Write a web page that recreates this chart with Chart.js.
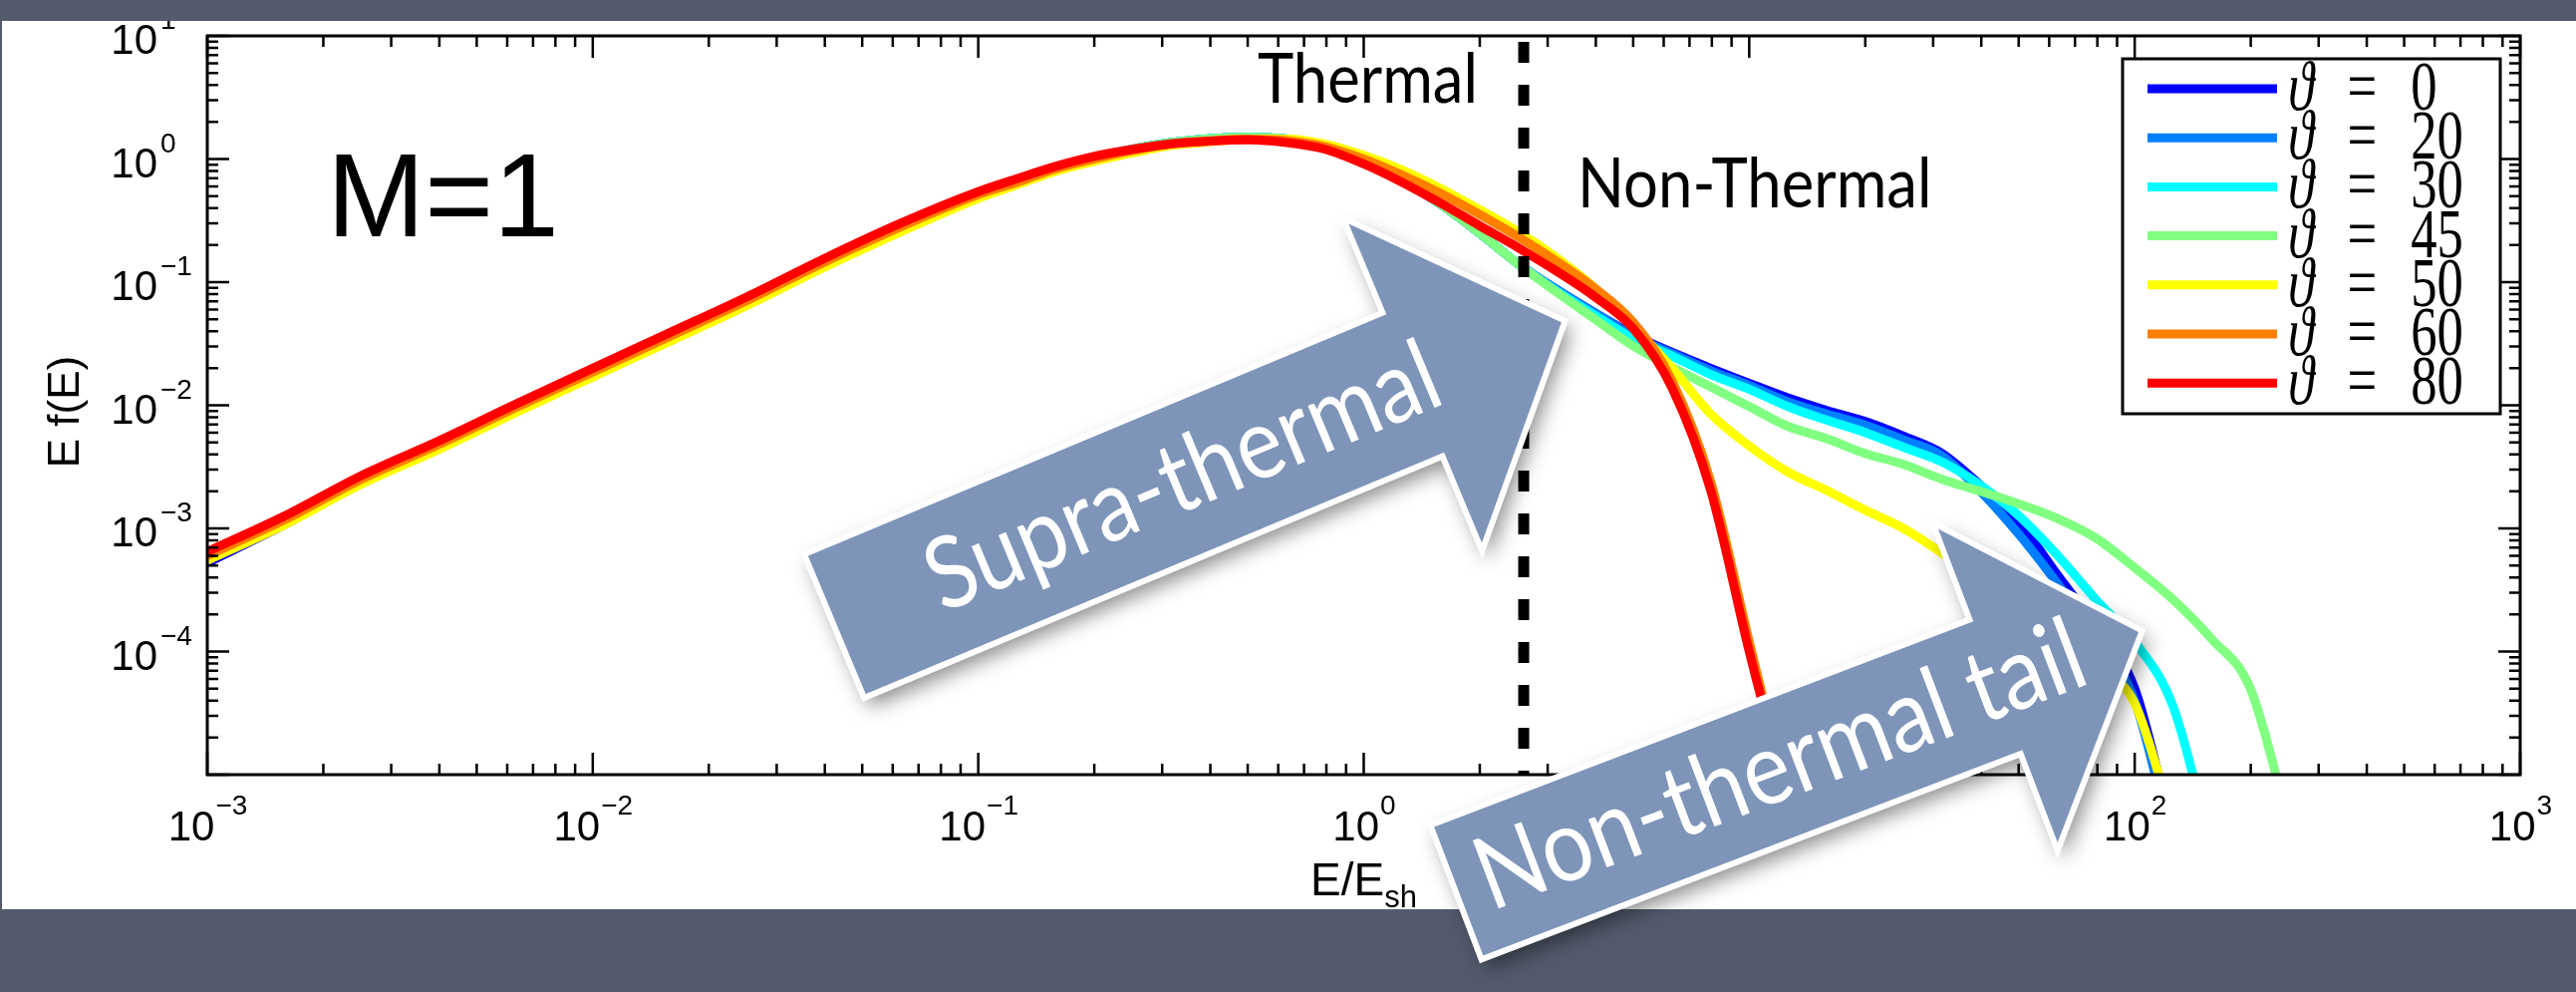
<!DOCTYPE html>
<html lang="en">
<head>
  <meta charset="UTF-8">
  <title>E f(E) spectra, M=1</title>
  <script src="https://cdn.jsdelivr.net/npm/chart.js@4.4.1/dist/chart.umd.min.js"></script>
  <style>
    html, body { margin: 0; padding: 0; background: #535a6c; overflow: hidden; }
    canvas { display: block; }
  </style>
</head>
<body>
  <canvas id="spectrum" width="2585" height="995" style="width:2585px;height:995px"></canvas>

  <script>
    // energy bins, E/E_sh
    const energy = [0.001, 0.001585, 0.002512, 0.003981, 0.00631, 0.01, 0.01585, 0.02512, 0.03981, 0.0631,
      0.1, 0.1259, 0.1585, 0.1995, 0.2512, 0.3162, 0.3981, 0.5012, 0.631, 0.7943,
      1, 1.259, 1.585, 1.995, 2.512, 3.162, 3.981, 5.012, 6.31, 7.943,
      10, 12.59, 15.85, 19.95, 25.12, 31.62, 39.81, 50.12, 63.1, 79.43,
      100, 125.9, 158.5, 199.5, 251.2];

    // E f(E) for each obliquity (null = curve has ended)
    const fTheta0 = [5.25e-4, 1.07e-3, 2.34e-3, 4.47e-3, 8.91e-3, 1.74e-2, 3.39e-2, 6.61e-2, 0.135, 0.263,
      0.490, 0.631, 0.832, 1.02, 1.20, 1.36, 1.46, 1.50, 1.45, 1.26,
      0.977, 0.676, 0.427, 0.251, 0.141, 8.71e-2, 5.62e-2, 3.72e-2, 2.69e-2, 2.0e-2,
      1.51e-2, 1.15e-2, 9.12e-3, 7.41e-3, 5.62e-3, 4.07e-3, 2.24e-3, 1.12e-3, 4.17e-4, 1.58e-4,
      5.01e-5, 3.2e-6, null, null, null];
    const fTheta20 = [5.6e-4, 1.12e-3, 2.40e-3, 4.57e-3, 9.12e-3, 1.78e-2, 3.47e-2, 6.76e-2, 0.138, 0.269,
      0.501, 0.646, 0.832, 1.02, 1.20, 1.36, 1.46, 1.50, 1.45, 1.26,
      0.977, 0.676, 0.427, 0.251, 0.141, 8.71e-2, 5.62e-2, 3.63e-2, 2.63e-2, 1.91e-2,
      1.45e-2, 1.07e-2, 8.51e-3, 6.92e-3, 5.25e-3, 3.89e-3, 2.0e-3, 8.91e-4, 3.55e-4, 1.32e-4,
      3.98e-5, 2.5e-6, null, null, null];
    const fTheta30 = [5.6e-4, 1.12e-3, 2.40e-3, 4.57e-3, 9.12e-3, 1.78e-2, 3.47e-2, 6.76e-2, 0.138, 0.269,
      0.501, 0.646, 0.832, 1.02, 1.20, 1.36, 1.46, 1.50, 1.45, 1.26,
      0.977, 0.676, 0.427, 0.251, 0.141, 8.51e-2, 5.37e-2, 3.47e-2, 2.51e-2, 1.78e-2,
      1.35e-2, 9.77e-3, 7.59e-3, 6.03e-3, 4.57e-3, 3.47e-3, 2.24e-3, 1.26e-3, 6.03e-4, 2.63e-4,
      1.2e-4, 3.55e-5, 2.5e-6, null, null];
    const fTheta45 = [5.75e-4, 1.12e-3, 2.40e-3, 4.57e-3, 9.12e-3, 1.78e-2, 3.47e-2, 6.76e-2, 0.138, 0.269,
      0.501, 0.646, 0.832, 1.02, 1.20, 1.36, 1.46, 1.50, 1.45, 1.26,
      0.977, 0.676, 0.427, 0.251, 0.141, 8.32e-2, 5.01e-2, 3.02e-2, 2.04e-2, 1.41e-2,
      9.77e-3, 6.76e-3, 5.37e-3, 4.07e-3, 3.31e-3, 2.51e-3, 2.0e-3, 1.58e-3, 1.2e-3, 8.32e-4,
      4.79e-4, 2.63e-4, 1.26e-4, 5.01e-5, 4.0e-6];
    const fTheta50 = [5.5e-4, 1.07e-3, 2.29e-3, 4.37e-3, 8.71e-3, 1.70e-2, 3.31e-2, 6.46e-2, 0.132, 0.257,
      0.479, 0.617, 0.794, 0.955, 1.12, 1.29, 1.38, 1.45, 1.45, 1.32,
      1.07, 0.813, 0.575, 0.389, 0.257, 0.158, 8.91e-2, 4.37e-2, 2.0e-2, 8.51e-3,
      4.68e-3, 2.88e-3, 2.04e-3, 1.41e-3, 1.0e-3, 6.31e-4, 3.72e-4, 2.19e-4, 1.29e-4, 7.59e-5,
      3.8e-5, 4.0e-6, null, null, null];
    const fTheta60 = [6.0e-4, 1.17e-3, 2.51e-3, 4.79e-3, 9.55e-3, 1.86e-2, 3.63e-2, 7.08e-2, 0.145, 0.282,
      0.513, 0.646, 0.832, 1.0, 1.17, 1.32, 1.40, 1.45, 1.41, 1.26,
      1.0, 0.741, 0.525, 0.355, 0.234, 0.148, 8.91e-2, 4.68e-2, 1.58e-2, 2.4e-3,
      1.2e-4, 6.3e-6, null, null, null, null, null, null, null, null,
      null, null, null, null, null];
    const fTheta80 = [6.46e-4, 1.26e-3, 2.69e-3, 5.13e-3, 1.02e-2, 2.0e-2, 3.89e-2, 7.59e-2, 0.155, 0.302,
      0.543, 0.692, 0.871, 1.05, 1.20, 1.33, 1.40, 1.43, 1.36, 1.20,
      0.912, 0.646, 0.437, 0.288, 0.191, 0.123, 7.59e-2, 4.17e-2, 1.38e-2, 2.04e-3,
      1.0e-4, 6.3e-6, null, null, null, null, null, null, null, null,
      null, null, null, null, null];

    const thetas = [0, 20, 30, 45, 50, 60, 80];
    const seriesValues = [fTheta0, fTheta20, fTheta30, fTheta45, fTheta50, fTheta60, fTheta80];
    const seriesColors = ['#0000ff', '#0080ff', '#00ffff', '#80ff80', '#ffff00', '#ff8000', '#ff0000'];

    // thermal / non-thermal boundary
    const boundaryEnergy = 2.6;

    const xTickExponents = [-3, -2, -1, 0, 1, 2, 3];
    const yTickExponents = [1, 0, -1, -2, -3, -4];

    const sansFont = '"Liberation Sans", Arial, sans-serif';
    const slideFont = 'Lato, "Open Sans", sans-serif';
    const serifFont = '"Liberation Serif", "DejaVu Serif", serif';
    const PANEL = { x: 2, y: 21, w: 2583, h: 891 };

    function supLabel(exp) {
      return exp < 0 ? '\u2212' + Math.abs(exp) : String(exp);
    }

    function drawArrow(ctx, a, label) {
      const rad = a.angle * Math.PI / 180;
      ctx.save();
      ctx.translate(a.x, a.y);
      ctx.rotate(rad);
      const L = a.length, bw = a.body, hw = a.head, hl = a.headLength;
      ctx.beginPath();
      ctx.moveTo(0, -bw);
      ctx.lineTo(L - hl, -bw);
      ctx.lineTo(L - hl, -hw);
      ctx.lineTo(L, 0);
      ctx.lineTo(L - hl, hw);
      ctx.lineTo(L - hl, bw);
      ctx.lineTo(0, bw);
      ctx.closePath();
      ctx.shadowColor = 'rgba(0,0,0,0.45)';
      ctx.shadowBlur = 20;
      ctx.shadowOffsetX = 6;
      ctx.shadowOffsetY = 9;
      ctx.fillStyle = '#7e94b8';
      ctx.fill();
      ctx.shadowColor = 'transparent';
      ctx.lineWidth = 6;
      ctx.lineJoin = 'miter';
      ctx.strokeStyle = '#ffffff';
      ctx.stroke();
      // label, a little condensed like the slide font
      ctx.translate(a.textAt, a.fontSize * 0.3);
      ctx.scale(0.88, 1);
      ctx.fillStyle = '#ffffff';
      ctx.font = a.fontSize + 'px ' + slideFont;
      ctx.textAlign = 'center';
      ctx.textBaseline = 'alphabetic';
      ctx.fillText(label, 0, 0);
      ctx.restore();
    }

    function condensedText(ctx, text, x, y, font, sx) {
      ctx.save();
      ctx.translate(x, y);
      ctx.scale(sx, 1);
      ctx.font = font;
      ctx.fillText(text, 0, 0);
      ctx.restore();
    }

    const slidePlugin = {
      id: 'slidePlugin',
      beforeDraw(chart) {
        const ctx = chart.ctx;
        ctx.save();
        ctx.fillStyle = '#535a6c';
        ctx.fillRect(0, 0, chart.width, chart.height);
        ctx.fillStyle = '#ffffff';
        ctx.fillRect(PANEL.x, PANEL.y, PANEL.w, PANEL.h);
        ctx.restore();
      },
      afterDatasetsDraw(chart) {
        const ctx = chart.ctx;
        const xs = chart.scales.x, ys = chart.scales.y, area = chart.chartArea;
        ctx.save();

        // box
        ctx.strokeStyle = '#000';
        ctx.lineWidth = 3;
        ctx.strokeRect(area.left, area.top, area.right - area.left, area.bottom - area.top);

        // ticks on all four sides, pointing inwards
        ctx.lineWidth = 2.5;
        ctx.beginPath();
        for (let e = -3; e <= 3; e++) {
          for (let m = 1; m < 10; m++) {
            if (e === 3 && m > 1) break;
            const px = xs.getPixelForValue(m * Math.pow(10, e));
            const len = m === 1 ? 22 : 11;
            ctx.moveTo(px, area.bottom); ctx.lineTo(px, area.bottom - len);
            ctx.moveTo(px, area.top); ctx.lineTo(px, area.top + len);
          }
        }
        for (let e = -5; e <= 1; e++) {
          for (let m = 1; m < 10; m++) {
            if (e === 1 && m > 1) break;
            const py = ys.getPixelForValue(m * Math.pow(10, e));
            const len = m === 1 ? 22 : 11;
            ctx.moveTo(area.left, py); ctx.lineTo(area.left + len, py);
            ctx.moveTo(area.right, py); ctx.lineTo(area.right - len, py);
          }
        }
        ctx.stroke();

        // tick labels 10^n
        ctx.save();
        ctx.beginPath();
        ctx.rect(PANEL.x, PANEL.y, PANEL.w, PANEL.h);
        ctx.clip();
        ctx.fillStyle = '#000';
        ctx.textBaseline = 'alphabetic';
        xTickExponents.forEach(exp => {
          const px = xs.getPixelForValue(Math.pow(10, exp));
          ctx.font = '42px ' + sansFont;
          const w1 = ctx.measureText('10').width;
          ctx.font = '28px ' + sansFont;
          const w2 = ctx.measureText(supLabel(exp)).width;
          const x0 = px - (w1 + w2) / 2;
          ctx.textAlign = 'left';
          ctx.font = '42px ' + sansFont;
          ctx.fillText('10', x0, area.bottom + 66);
          ctx.font = '28px ' + sansFont;
          ctx.fillText(supLabel(exp), x0 + w1 + 1, area.bottom + 40);
        });
        yTickExponents.forEach(exp => {
          const py = ys.getPixelForValue(Math.pow(10, exp));
          ctx.textAlign = 'right';
          ctx.font = '42px ' + sansFont;
          ctx.fillText('10', area.left - 50, py + 18);
          ctx.textAlign = 'left';
          ctx.font = '28px ' + sansFont;
          ctx.fillText(supLabel(exp), area.left - 47, py - 7);
        });
        ctx.restore();

        // axis titles
        ctx.fillStyle = '#000';
        ctx.textAlign = 'left';
        ctx.font = '46px ' + sansFont;
        const wE = ctx.measureText('E/E').width;
        ctx.font = '31px ' + sansFont;
        const wSub = ctx.measureText('sh').width;
        const xt = xs.getPixelForValue(1) - (wE + wSub) / 2;
        ctx.font = '46px ' + sansFont;
        ctx.fillText('E/E', xt, 898);
        ctx.font = '31px ' + sansFont;
        ctx.fillText('sh', xt + wE, 910);

        ctx.save();
        ctx.translate(79, 413);
        ctx.rotate(-Math.PI / 2);
        ctx.textAlign = 'center';
        ctx.font = '44px ' + sansFont;
        ctx.fillText('E f(E)', 0, 0);
        ctx.restore();

        // annotations
        ctx.textAlign = 'left';
        ctx.font = '118px ' + sansFont;
        ctx.fillText('M=1', 328, 237);
        condensedText(ctx, 'Thermal', 1262, 103, '70px ' + slideFont, 0.88);
        condensedText(ctx, 'Non-Thermal', 1583, 208, '70px ' + slideFont, 0.88);

        // legend
        const lg = { left: 2130, top: 59, right: 2509, bottom: 415 };
        ctx.fillStyle = '#fff';
        ctx.fillRect(lg.left, lg.top, lg.right - lg.left, lg.bottom - lg.top);
        ctx.lineWidth = 3;
        ctx.strokeStyle = '#000';
        ctx.strokeRect(lg.left, lg.top, lg.right - lg.left, lg.bottom - lg.top);
        thetas.forEach((t, i) => {
          const cy = 89 + i * 49.2;
          ctx.strokeStyle = seriesColors[i];
          ctx.lineWidth = 9;
          ctx.beginPath();
          ctx.moveTo(2155, cy);
          ctx.lineTo(2285, cy);
          ctx.stroke();
          ctx.save();
          ctx.translate(2296, cy + 21);
          ctx.scale(0.85, 1.12);
          ctx.fillStyle = '#000';
          ctx.font = 'italic 62px ' + serifFont;
          ctx.fillText('\u03d1', 0, 0);
          ctx.font = '62px ' + serifFont;
          ctx.fillText('=', 70, 0);
          ctx.fillText(String(t), 145, 0);
          ctx.restore();
        });

        ctx.restore();
      },
      afterDraw(chart) {
        const ctx = chart.ctx;
        drawArrow(ctx, { x: 837, y: 628, angle: -22.66, length: 795, body: 78, head: 181, headLength: 166,
          fontSize: 100, textAt: 380 }, 'Supra-thermal');
        drawArrow(ctx, { x: 1461, y: 895, angle: -20.85, length: 737, body: 72, head: 176, headLength: 158,
          fontSize: 102, textAt: 349 }, 'Non-thermal tail');
      }
    };

    const datasets = thetas.map((t, i) => ({
      label: '\u03d1 = ' + t,
      data: energy.map((e, k) => ({ x: e, y: seriesValues[i][k] })).filter(p => p.y !== null),
      borderColor: seriesColors[i],
      borderWidth: 9,
      pointRadius: 0,
      cubicInterpolationMode: 'monotone',
      borderJoinStyle: 'round',
      clip: 0,
      order: thetas.length - i
    }));

    datasets.push({
      label: 'boundary',
      data: [{ x: boundaryEnergy, y: 10 }, { x: boundaryEnergy, y: 1e-5 }],
      borderColor: '#000',
      borderWidth: 11,
      borderDash: [21, 22],
      borderDashOffset: 37,
      pointRadius: 0,
      clip: 0,
      order: 0
    });

    new Chart(document.getElementById('spectrum'), {
      type: 'line',
      data: { datasets },
      options: {
        responsive: false,
        animation: false,
        devicePixelRatio: 1,
        layout: { padding: { left: 208, right: 56, top: 36, bottom: 218 } },
        plugins: { legend: { display: false }, tooltip: { enabled: false } },
        scales: {
          x: { type: 'logarithmic', min: 1e-3, max: 1e3, display: false },
          y: { type: 'logarithmic', min: 1e-5, max: 10, display: false }
        }
      },
      plugins: [slidePlugin]
    });
  </script>
</body>
</html>
